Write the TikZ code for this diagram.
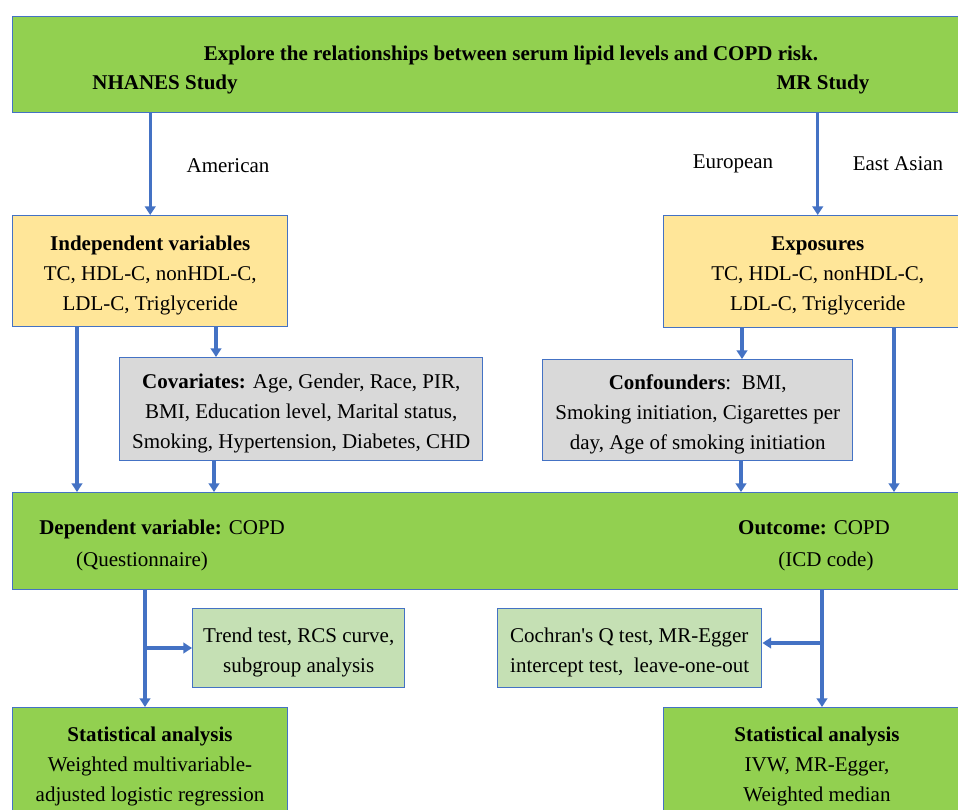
\documentclass[tikz,border=0pt]{standalone}
\usepackage{fontspec}
\setmainfont{Liberation Serif}
\usetikzlibrary{arrows.meta}
\definecolor{bgreen}{HTML}{92D050}
\definecolor{byellow}{HTML}{FFE699}
\definecolor{bgray}{HTML}{D9D9D9}
\definecolor{lgreen}{HTML}{C5E0B4}
\definecolor{bord}{HTML}{4472C4}
\definecolor{arrc}{HTML}{4472C4}
\begin{document}
\begin{tikzpicture}[x=0.75pt,y=-0.75pt,
  txt/.style={font=\fontsize{15.75pt}{22.5pt}\selectfont, inner sep=0pt},
  btxt/.style={txt, align=center, yshift=-3pt},
  box/.style={draw=bord, line width=1.1pt, anchor=north west, inner sep=0pt},
  arr/.style={draw=arrc, line width=2.3pt, -{Triangle[width=8pt,length=6.5pt]}}]
\useasboundingbox (0,0) rectangle (958,810);
\clip (0,0) rectangle (958,810);
\fill[white] (0,0) rectangle (958,810);

% boxes
\node[box, fill=bgreen, minimum width=722.25pt, minimum height=72pt] (banner) at (12,16) {};
\node[box, fill=byellow, minimum width=206.25pt, minimum height=83.25pt] (indep) at (12,215) {};
\node[box, fill=bgray, minimum width=272.25pt, minimum height=77.25pt] (covar) at (119,357) {};
\node[box, fill=byellow, minimum width=231pt, minimum height=84pt] (expo) at (663,215) {};
\node[box, fill=bgray, minimum width=232.5pt, minimum height=75.75pt] (conf) at (542,359) {};
\node[box, fill=bgreen, minimum width=722.25pt, minimum height=72.75pt] (dep) at (12,492) {};
\node[box, fill=lgreen, minimum width=159pt, minimum height=59.25pt] (trend) at (192,608) {};
\node[box, fill=lgreen, minimum width=198pt, minimum height=59.25pt] (coch) at (497,608) {};
\node[box, fill=bgreen, minimum width=206.25pt, minimum height=87pt] (statL) at (12,707) {};
\node[box, fill=bgreen, minimum width=231pt, minimum height=87pt] (statR) at (663,707) {};

% box texts
\node[btxt] (indeptxt) at (indep) {\textbf{Independent variables}\\TC, HDL-C, nonHDL-C,\\LDL-C, Triglyceride};
\node[btxt] (covartxt) at (covar) {\textbf{Covariates:} Age, Gender, Race, PIR,\\BMI, Education level, Marital status,\\Smoking, Hypertension, Diabetes, CHD};
\node[btxt] (expotxt) at (expo) {\textbf{Exposures}\\TC, HDL-C, nonHDL-C,\\LDL-C, Triglyceride};
\node[btxt] (conftxt) at (conf) {\textbf{Confounders}:\ \ BMI,\\Smoking initiation, Cigarettes per\\day, Age of smoking initiation};
\node[btxt] (trendtxt) at (trend) {Trend test, RCS curve,\\subgroup analysis};
\node[btxt, align=left] (cochtxt) at (coch) {Cochran\textquotesingle s Q test, MR-Egger\\intercept test,\ \ leave-one-out};
\node[txt, align=center] (statLtxt) at (150,766.5) {\textbf{Statistical analysis}\\Weighted multivariable-\\adjusted logistic regression};
\node[txt, align=center] (statRtxt) at (817,766) {\textbf{Statistical analysis}\\IVW, MR-Egger,\\Weighted median};

% free texts
\node[txt, font=\fontsize{15.75pt}{22.5pt}\selectfont\bfseries] (title) at (511,55)
  {Explore the relationships between serum lipid levels and COPD risk.};
\node[txt, font=\fontsize{15.75pt}{22.5pt}\selectfont\bfseries] (nhanes) at (165,84) {NHANES Study};
\node[txt, font=\fontsize{15.75pt}{22.5pt}\selectfont\bfseries] (mrs) at (823,84) {MR Study};
\node[txt] (american) at (228,166) {American};
\node[txt] (european) at (733,164) {European};
\node[txt] (eastasian) at (898,164) {East Asian};
\node[txt, anchor=west] (depvar) at (39,529) {\textbf{Dependent variable:} COPD};
\node[txt] (quest) at (142,561) {(Questionnaire)};
\node[txt] (outc) at (814,528) {\textbf{Outcome:} COPD};
\node[txt] (icd) at (826,561) {(ICD code)};

% connectors
\draw[arr] (banner.south -| indep.north) -- (indep.north);
\draw[arr] (banner.south -| expo.north) -- (expo.north);
\draw[arr] (indep.south -| 77,0) -- (dep.north -| 77,0);
\draw[arr] (indep.south -| 216,0) -- (covar.north -| 216,0);
\draw[arr] (covar.south -| 214,0) -- (dep.north -| 214,0);
\draw[arr] (expo.south -| 742,0) -- (conf.north -| 742,0);
\draw[arr] (expo.south -| 894,0) -- (dep.north -| 894,0);
\draw[arr] (conf.south -| 741,0) -- (dep.north -| 741,0);
\coordinate (bl) at (145,648);
\coordinate (br) at (822,643);
\draw[arr] (dep.south -| bl) -- (statL.north -| bl);
\draw[arr] (bl) -- (trend.west |- bl);
\draw[arr] (dep.south -| br) -- (statR.north -| br);
\draw[arr] (br) -- (coch.east |- br);
\end{tikzpicture}
\end{document}
